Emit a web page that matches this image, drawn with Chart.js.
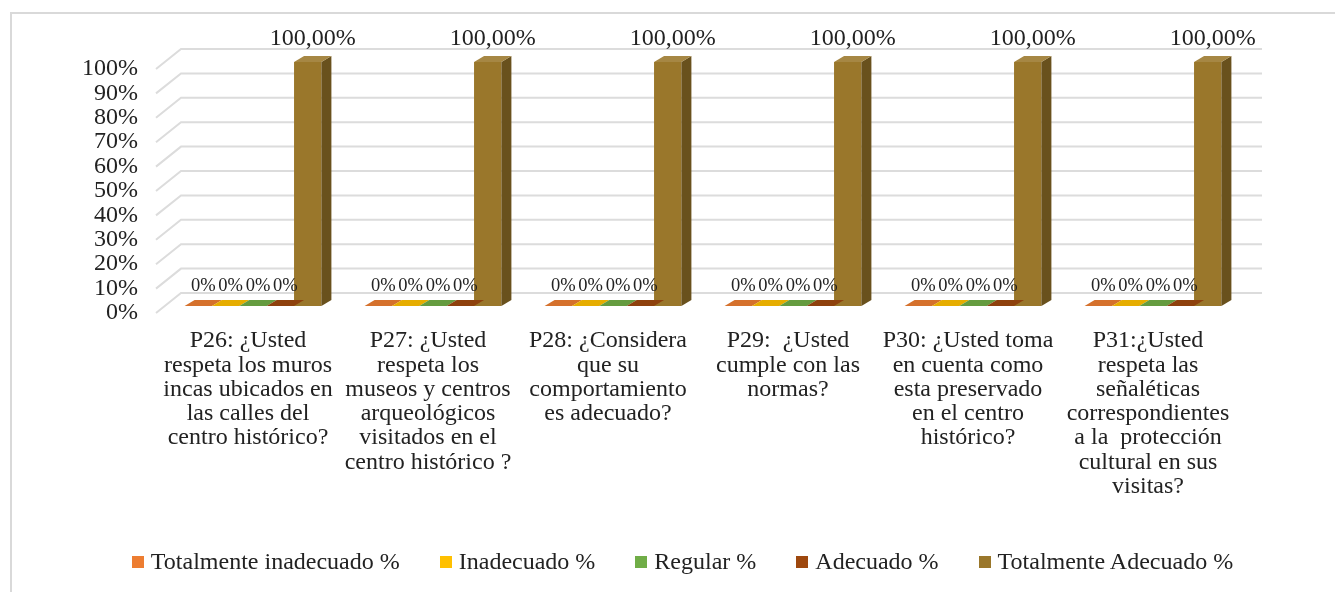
<!DOCTYPE html>
<html lang="es">
<head>
<meta charset="utf-8">
<title>Respeto al patrimonio del centro histórico</title>
<script src="https://cdn.jsdelivr.net/npm/chart.js@4.4.1/dist/chart.umd.min.js"></script>
<style>
    html, body { margin: 0; padding: 0; background: #fff; }
    #wrap { position: relative; width: 1335px; height: 592px; overflow: hidden; }
    #frame {
        position: absolute; left: 10px; top: 12px; right: -4px; bottom: -4px;
        border-top: 2px solid #d9d9d9; border-left: 2px solid #d9d9d9;
    }
    #chart { position: absolute; left: 0; top: 0; }
    #legend {
        position: absolute; left: 15px; top: 548px; width: 1335px;
        display: flex; justify-content: center; gap: 40px;
        font-family: "Liberation Serif", "Times New Roman", serif; font-size: 24px; color: #222;
    }
    #legend span.item { display: flex; align-items: center; white-space: nowrap; }
    #legend span.box { width: 12px; height: 12px; margin-right: 7px; display: inline-block; }
</style>
</head>
<body>
<div id="wrap">
    <div id="frame"></div>
    <canvas id="chart" width="1335" height="592"></canvas>
    <div id="legend"></div>
</div>
<script>
// ===============================
// Datos
// ===============================
const categorias = [
    ['P26: ¿Usted', 'respeta los muros', 'incas ubicados en', 'las calles del', 'centro histórico?'],
    ['P27: ¿Usted', 'respeta los', 'museos y centros', 'arqueológicos', 'visitados en el', 'centro histórico ?'],
    ['P28: ¿Considera', 'que su', 'comportamiento', 'es adecuado?'],
    ['P29:  ¿Usted', 'cumple con las', 'normas?'],
    ['P30: ¿Usted toma', 'en cuenta como', 'esta preservado', 'en el centro', 'histórico?'],
    ['P31:¿Usted', 'respeta las', 'señaléticas', 'correspondientes', 'a la  protección', 'cultural en sus', 'visitas?']
];

const totalmenteInadecuado = [0, 0, 0, 0, 0, 0];
const inadecuado = [0, 0, 0, 0, 0, 0];
const regular = [0, 0, 0, 0, 0, 0];
const adecuado = [0, 0, 0, 0, 0, 0];
const totalmenteAdecuado = [1, 1, 1, 1, 1, 1];

const nombresSeries = ['Totalmente inadecuado %', 'Inadecuado %', 'Regular %', 'Adecuado %', 'Totalmente Adecuado %'];
const coloresSeries = ['#ed7d31', '#ffc000', '#70ad47', '#9e480e', '#9a772b'];

const ticksY = [0, 0.1, 0.2, 0.3, 0.4, 0.5, 0.6, 0.7, 0.8, 0.9, 1];

const FUENTE = '"Liberation Serif", "Times New Roman", serif';

// desplazamientos del efecto 3D
const PARED = { dx: 23, dy: 20 };   // pared del fondo
const BARRA = { sx: 5, sy: 7 };     // cara frontal de las barras
const PROF = { dx: 10, dy: 6 };     // profundidad de cada barra

// ===============================
// Utilidades de color
// ===============================
function sombra(hex, f) {
    const n = parseInt(hex.slice(1), 16);
    let r = (n >> 16) & 255, g = (n >> 8) & 255, b = n & 255;
    if (f < 0) {
        r = r * (1 + f); g = g * (1 + f); b = b * (1 + f);
    } else {
        r = r + (255 - r) * f; g = g + (255 - g) * f; b = b + (255 - b) * f;
    }
    return 'rgb(' + Math.round(r) + ',' + Math.round(g) + ',' + Math.round(b) + ')';
}

function formatoPct(v) {
    return v === 0 ? '0%' : (v * 100).toFixed(2).replace('.', ',') + '%';
}

// ===============================
// Plugins
// ===============================
const paredFondo = {
    id: 'paredFondo',
    beforeDatasetsDraw(chart) {
        const { ctx, chartArea, scales } = chart;
        ctx.save();
        ctx.strokeStyle = '#dcdcdc';
        ctx.lineWidth = 2;
        ticksY.forEach(v => {
            const y = scales.y.getPixelForValue(v);
            ctx.beginPath();
            ctx.moveTo(chartArea.left - 2, y);
            ctx.lineTo(chartArea.left + PARED.dx, y - PARED.dy);
            ctx.lineTo(chartArea.right + PARED.dx + 1, y - PARED.dy);
            ctx.stroke();
        });
        ctx.restore();
        // las barras se dibujan un poco dentro de la profundidad
        ctx.save();
        ctx.translate(BARRA.sx, -BARRA.sy);
    },
    afterDatasetsDraw(chart) {
        const ctx = chart.ctx;
        chart.data.datasets.forEach((ds, i) => {
            const meta = chart.getDatasetMeta(i);
            meta.data.forEach(bar => {
                const l = bar.x - bar.width / 2;
                const r = bar.x + bar.width / 2;
                const top = Math.min(bar.y, bar.base);
                const base = Math.max(bar.y, bar.base);
                // cara lateral
                if (base - top > 0.5) {
                    ctx.fillStyle = sombra(ds.backgroundColor, -0.32);
                    ctx.beginPath();
                    ctx.moveTo(r, top);
                    ctx.lineTo(r + PROF.dx, top - PROF.dy);
                    ctx.lineTo(r + PROF.dx, base - PROF.dy);
                    ctx.lineTo(r, base);
                    ctx.closePath();
                    ctx.fill();
                }
                // cara superior
                ctx.fillStyle = base - top > 0.5 ? sombra(ds.backgroundColor, 0.12) : sombra(ds.backgroundColor, -0.1);
                ctx.beginPath();
                ctx.moveTo(l, top);
                ctx.lineTo(l + PROF.dx, top - PROF.dy);
                ctx.lineTo(r + PROF.dx, top - PROF.dy);
                ctx.lineTo(r, top);
                ctx.closePath();
                ctx.fill();
            });
        });
        // etiquetas de valor
        ctx.fillStyle = '#222';
        ctx.textAlign = 'center';
        ctx.textBaseline = 'middle';
        chart.data.datasets.forEach((ds, i) => {
            const meta = chart.getDatasetMeta(i);
            meta.data.forEach((bar, j) => {
                const v = ds.data[j];
                ctx.font = (v === 0 ? 18.5 : 24) + 'px ' + FUENTE;
                const y = Math.min(bar.y, bar.base) - PROF.dy - (v === 0 ? 14 : 17);
                ctx.fillText(formatoPct(v), bar.x + PROF.dx / 2, y);
            });
        });
        ctx.restore();
    }
};

// ===============================
// Chart
// ===============================
const series = [totalmenteInadecuado, inadecuado, regular, adecuado, totalmenteAdecuado];

const grafico = new Chart(document.getElementById('chart'), {
    type: 'bar',
    data: {
        labels: categorias,
        datasets: series.map((d, i) => ({
            label: nombresSeries[i],
            data: d,
            backgroundColor: coloresSeries[i],
            borderWidth: 0,
            categoryPercentage: 0.76,
            barPercentage: 1
        }))
    },
    options: {
        responsive: false,
        animation: false,
        layout: { padding: { left: 0, right: 97, top: 69, bottom: 0 } },
        plugins: {
            legend: { display: false },
            tooltip: { enabled: false }
        },
        scales: {
            x: {
                grid: { display: false, drawTicks: false },
                border: { display: false },
                ticks: {
                    color: '#222',
                    font: { family: FUENTE, size: 24, lineHeight: 1.01 },
                    padding: 16,
                    maxRotation: 0,
                    autoSkip: false
                },
                afterFit(scale) { scale.height = 279; }
            },
            y: {
                min: 0,
                max: 1,
                grid: { display: false, drawTicks: false },
                border: { display: false },
                afterBuildTicks(scale) { scale.ticks = ticksY.map(v => ({ value: v })); },
                ticks: {
                    color: '#222',
                    font: { family: FUENTE, size: 24 },
                    padding: 20,
                    autoSkip: false,
                    callback: v => Math.round(v * 100) + '%'
                },
                afterFit(scale) { scale.width = 158; }
            }
        }
    },
    plugins: [paredFondo]
});

// ===============================
// Leyenda HTML
// ===============================
const leyenda = document.getElementById('legend');
grafico.data.datasets.forEach(ds => {
    const item = document.createElement('span');
    item.className = 'item';
    const caja = document.createElement('span');
    caja.className = 'box';
    caja.style.background = ds.backgroundColor;
    item.appendChild(caja);
    item.appendChild(document.createTextNode(ds.label));
    leyenda.appendChild(item);
});
</script>
</body>
</html>
